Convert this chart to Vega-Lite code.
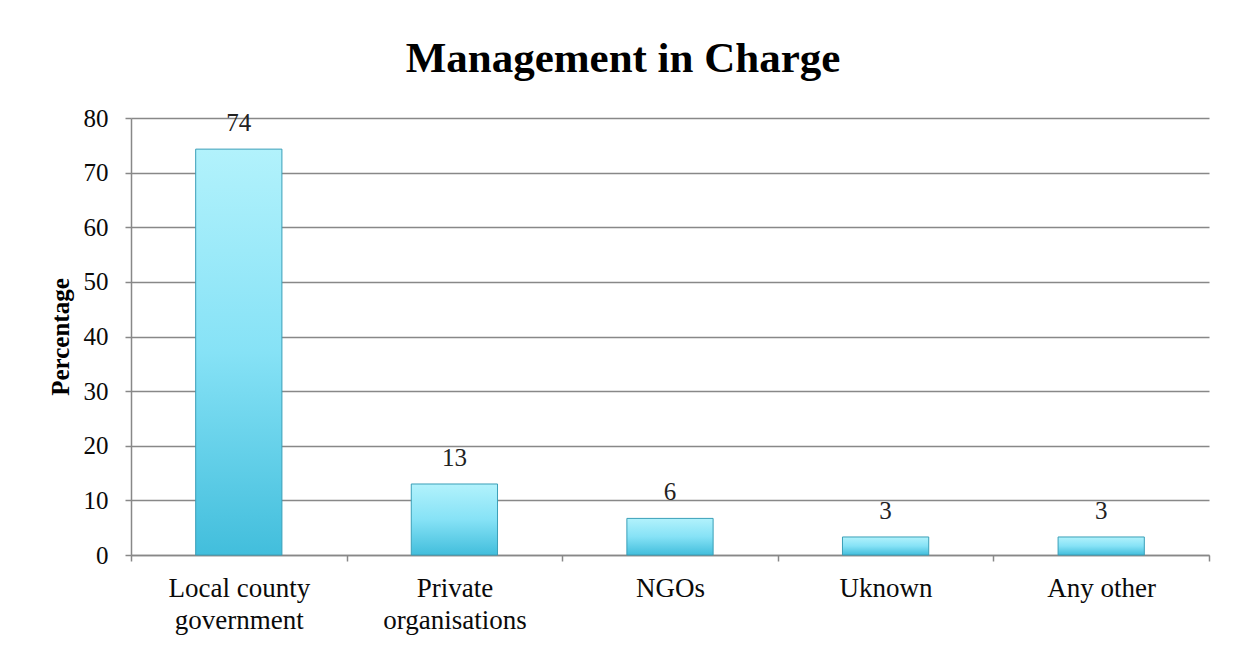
{
  "$schema": "https://vega.github.io/schema/vega-lite/v6.json",
  "autosize": "none",
  "width": 1078,
  "height": 437,
  "padding": {"left": 131, "top": 118, "right": 35, "bottom": 98},
  "background": "white",
  "title": {
    "text": "Management in Charge",
    "font": "Liberation Serif",
    "fontSize": 43,
    "fontWeight": "bold",
    "color": "#000000",
    "anchor": "middle",
    "frame": "group",
    "dx": -47,
    "offset": 25
  },
  "data": {
    "values": [
      {"category": "Local county government", "value": 74.3, "label": "74"},
      {"category": "Private organisations", "value": 13.0, "label": "13"},
      {"category": "NGOs", "value": 6.7, "label": "6"},
      {"category": "Uknown", "value": 3.3, "label": "3"},
      {"category": "Any other", "value": 3.3, "label": "3"}
    ]
  },
  "encoding": {
    "x": {
      "field": "category",
      "type": "nominal",
      "sort": null,
      "scale": {"paddingInner": 0, "paddingOuter": 0},
      "axis": {
        "title": null,
        "labelAngle": 0,
        "labelFont": "Liberation Serif",
        "labelFontSize": 27,
        "labelColor": "#0a0a0a",
        "labelPadding": 14,
        "labelLineHeight": 32,
        "labelExpr": "datum.value == 'Local county government' ? ['Local county', 'government'] : datum.value == 'Private organisations' ? ['Private', 'organisations'] : datum.value",
        "tickBand": "extent",
        "tickSize": 6,
        "tickColor": "#888888",
        "tickWidth": 1.5,
        "domainColor": "#888888",
        "domainWidth": 1.5,
        "grid": false
      }
    },
    "y": {
      "field": "value",
      "type": "quantitative",
      "scale": {"domain": [0, 80], "nice": false},
      "axis": {
        "title": "Percentage",
        "titleFont": "Liberation Serif",
        "titleFontSize": 25,
        "titleFontWeight": "bold",
        "titleColor": "#000000",
        "titlePadding": 10,
        "values": [0, 10, 20, 30, 40, 50, 60, 70, 80],
        "labelFont": "Liberation Serif",
        "labelFontSize": 25,
        "labelColor": "#0a0a0a",
        "labelPadding": 17,
        "tickSize": 6,
        "tickColor": "#888888",
        "tickWidth": 1.5,
        "domainColor": "#888888",
        "domainWidth": 1.5,
        "grid": true,
        "gridColor": "#888888",
        "gridWidth": 1.5
      }
    }
  },
  "layer": [
    {
      "mark": {
        "type": "bar",
        "width": {"band": 0.4},
        "stroke": "#3a9fb8",
        "strokeWidth": 1,
        "fill": {
          "gradient": "linear",
          "x1": 0, "y1": 0, "x2": 0, "y2": 1,
          "stops": [
            {"offset": 0, "color": "#b2f2fc"},
            {"offset": 0.5, "color": "#86e2f6"},
            {"offset": 1, "color": "#42bedc"}
          ]
        }
      }
    },
    {
      "mark": {
        "type": "text",
        "font": "Liberation Serif",
        "fontSize": 25,
        "color": "#222222",
        "baseline": "alphabetic",
        "dy": -18
      },
      "encoding": {"text": {"field": "label"}}
    }
  ],
  "config": {"view": {"stroke": null}}
}
